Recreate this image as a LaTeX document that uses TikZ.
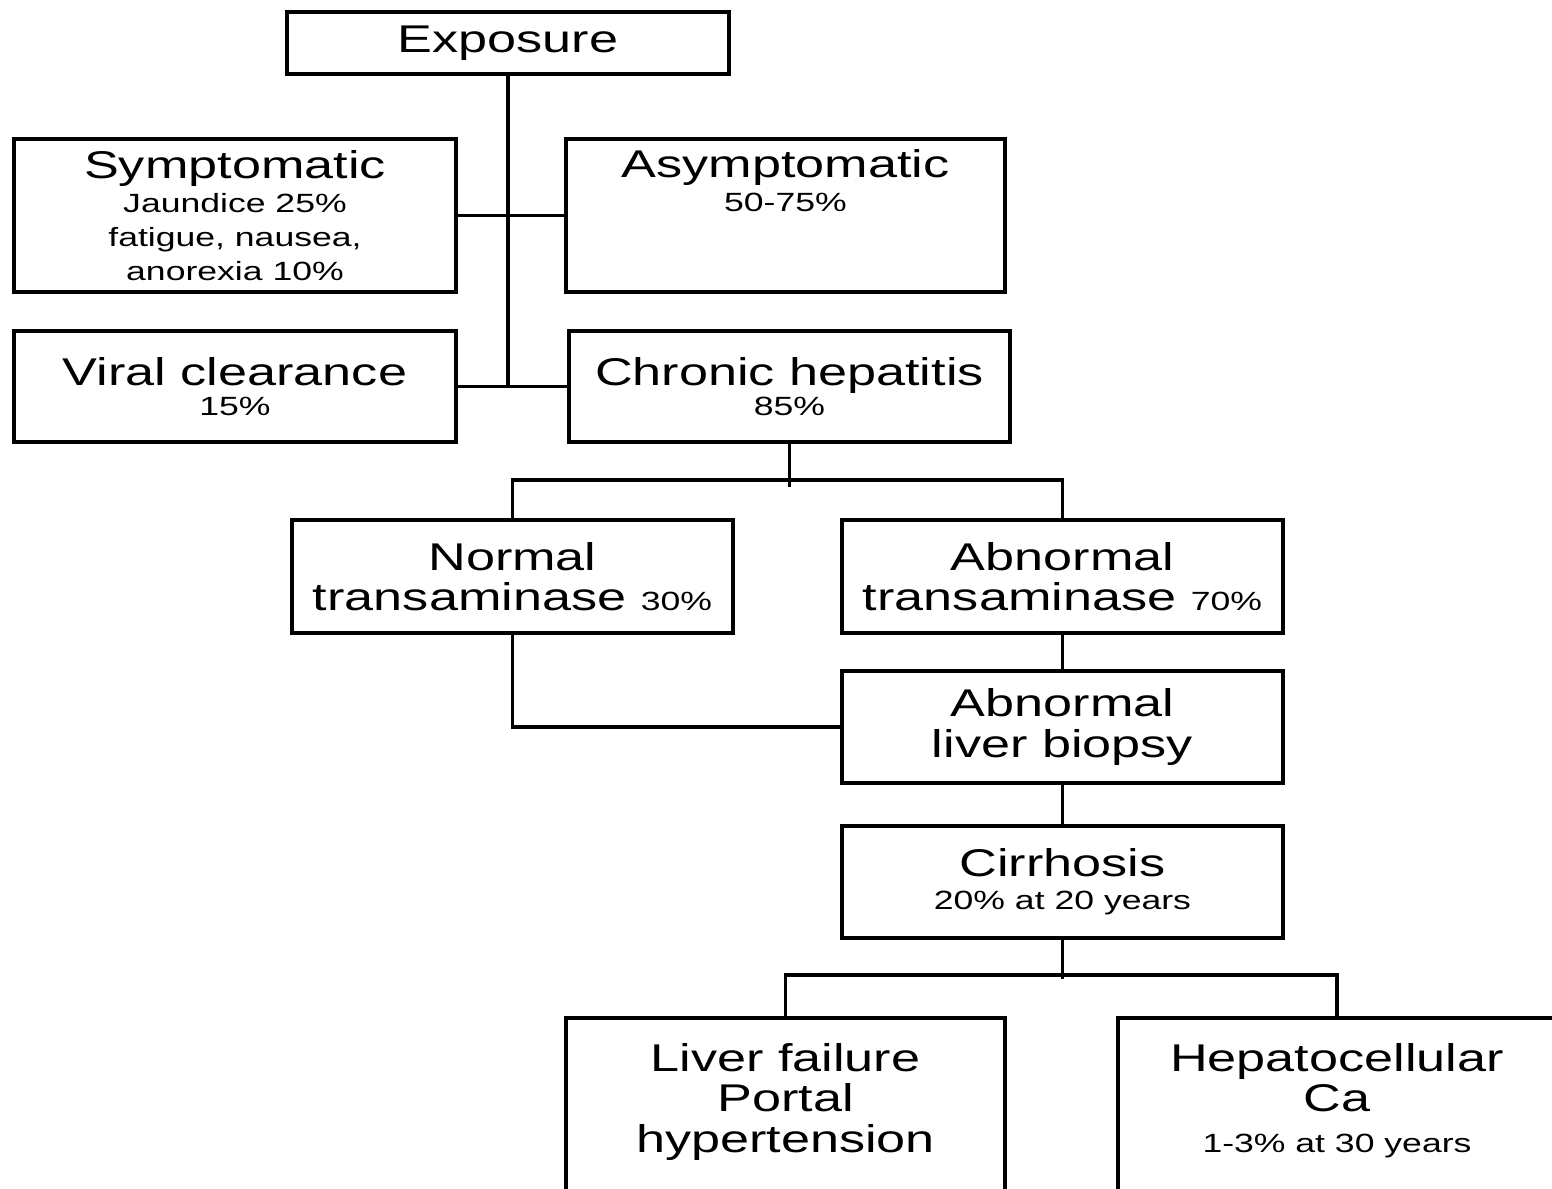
\documentclass[tikz,border=0pt]{standalone}
\usepackage{fontspec}
\setmainfont{Liberation Sans}[FakeStretch=1.35]
\usepackage{tikz}
\usetikzlibrary{calc}
\newcommand{\subt}{\fontsize{7.5}{9.5}\selectfont}
\tikzstyle{box}=[draw,rectangle,line width=1.2pt,minimum width=4.41cm,align=center,inner sep=2pt,font=\fontsize{11}{11.5}\selectfont]

\begin{document}
\begin{tikzpicture}[line width=1.1pt]
    \useasboundingbox (0,0) rectangle (15.52,-11.89);
    \clip (0,0) rectangle (15.52,-11.89);

    \node[box,minimum width=4.42cm,minimum height=0.62cm] (expo) at (5.08,-0.43) {Exposure\vphantom{E}};

    \node[box,minimum width=4.42cm,minimum height=1.53cm,font=\fontsize{11}{9.7}\selectfont] (sym) at (2.35,-2.155) {Symptomatic\\{\subt Jaundice 25\%}\\{\subt fatigue, nausea,}\\{\subt anorexia 10\%}};
    \node[box,minimum width=4.39cm,minimum height=1.53cm,font=\fontsize{11}{9.7}\selectfont] (asym) at (7.855,-2.155) {Asymptomatic\\{\subt 50-75\%}\\[0.36cm]\mbox{}};

    \node[box,minimum width=4.42cm,minimum height=1.11cm,font=\fontsize{11}{8.6}\selectfont] (vir) at (2.35,-3.865) {Viral clearance\\{\subt 15\%}};
    \node[box,minimum height=1.11cm,font=\fontsize{11}{8.6}\selectfont] (chron) at (7.895,-3.865) {Chronic hepatitis\\{\subt 85\%}};

    \node[box,minimum height=1.13cm] (norm) at (5.125,-5.765) {Normal\\transaminase {\subt 30\%}};
    \node[box,minimum height=1.13cm] (abn) at (10.625,-5.765) {Abnormal\\transaminase {\subt 70\%}};
    \node[box,minimum height=1.12cm] (biop) at (10.625,-7.27) {Abnormal\\liver biopsy};
    \node[box,minimum height=1.12cm,font=\fontsize{11}{9.4}\selectfont] (cirr) at (10.625,-8.82) {Cirrhosis\\{\subt 20\% at 20 years}};

    \node[box,minimum width=4.39cm,minimum height=2.0cm] (fail) at (7.855,-11.18) {Liver failure\\Portal\\hypertension\\\mbox{}};
    \node[box,minimum width=4.38cm,minimum height=2.0cm] (hcc) at (13.37,-11.18) {Hepatocellular\\Ca\\{\subt 1-3\% at 30 years}\\\mbox{}};

    \draw (expo.south) -- (expo.south |- vir.east);
    \draw (sym.east) -- (asym.west);
    \draw (vir.east) -- (chron.west);

    \draw (chron.south) -- ++(0,-0.43);
    \draw (norm.north) -- ++(0,0.38) -| (abn.north);
    \draw (abn.south) -- (biop.north);
    \draw (norm.south) |- (biop.west);
    \draw (biop.south) -- (cirr.north);

    \draw (cirr.south) -- ++(0,-0.39);
    \draw (fail.north) -- ++(0,0.41) -| (hcc.north);
\end{tikzpicture}
\end{document}
